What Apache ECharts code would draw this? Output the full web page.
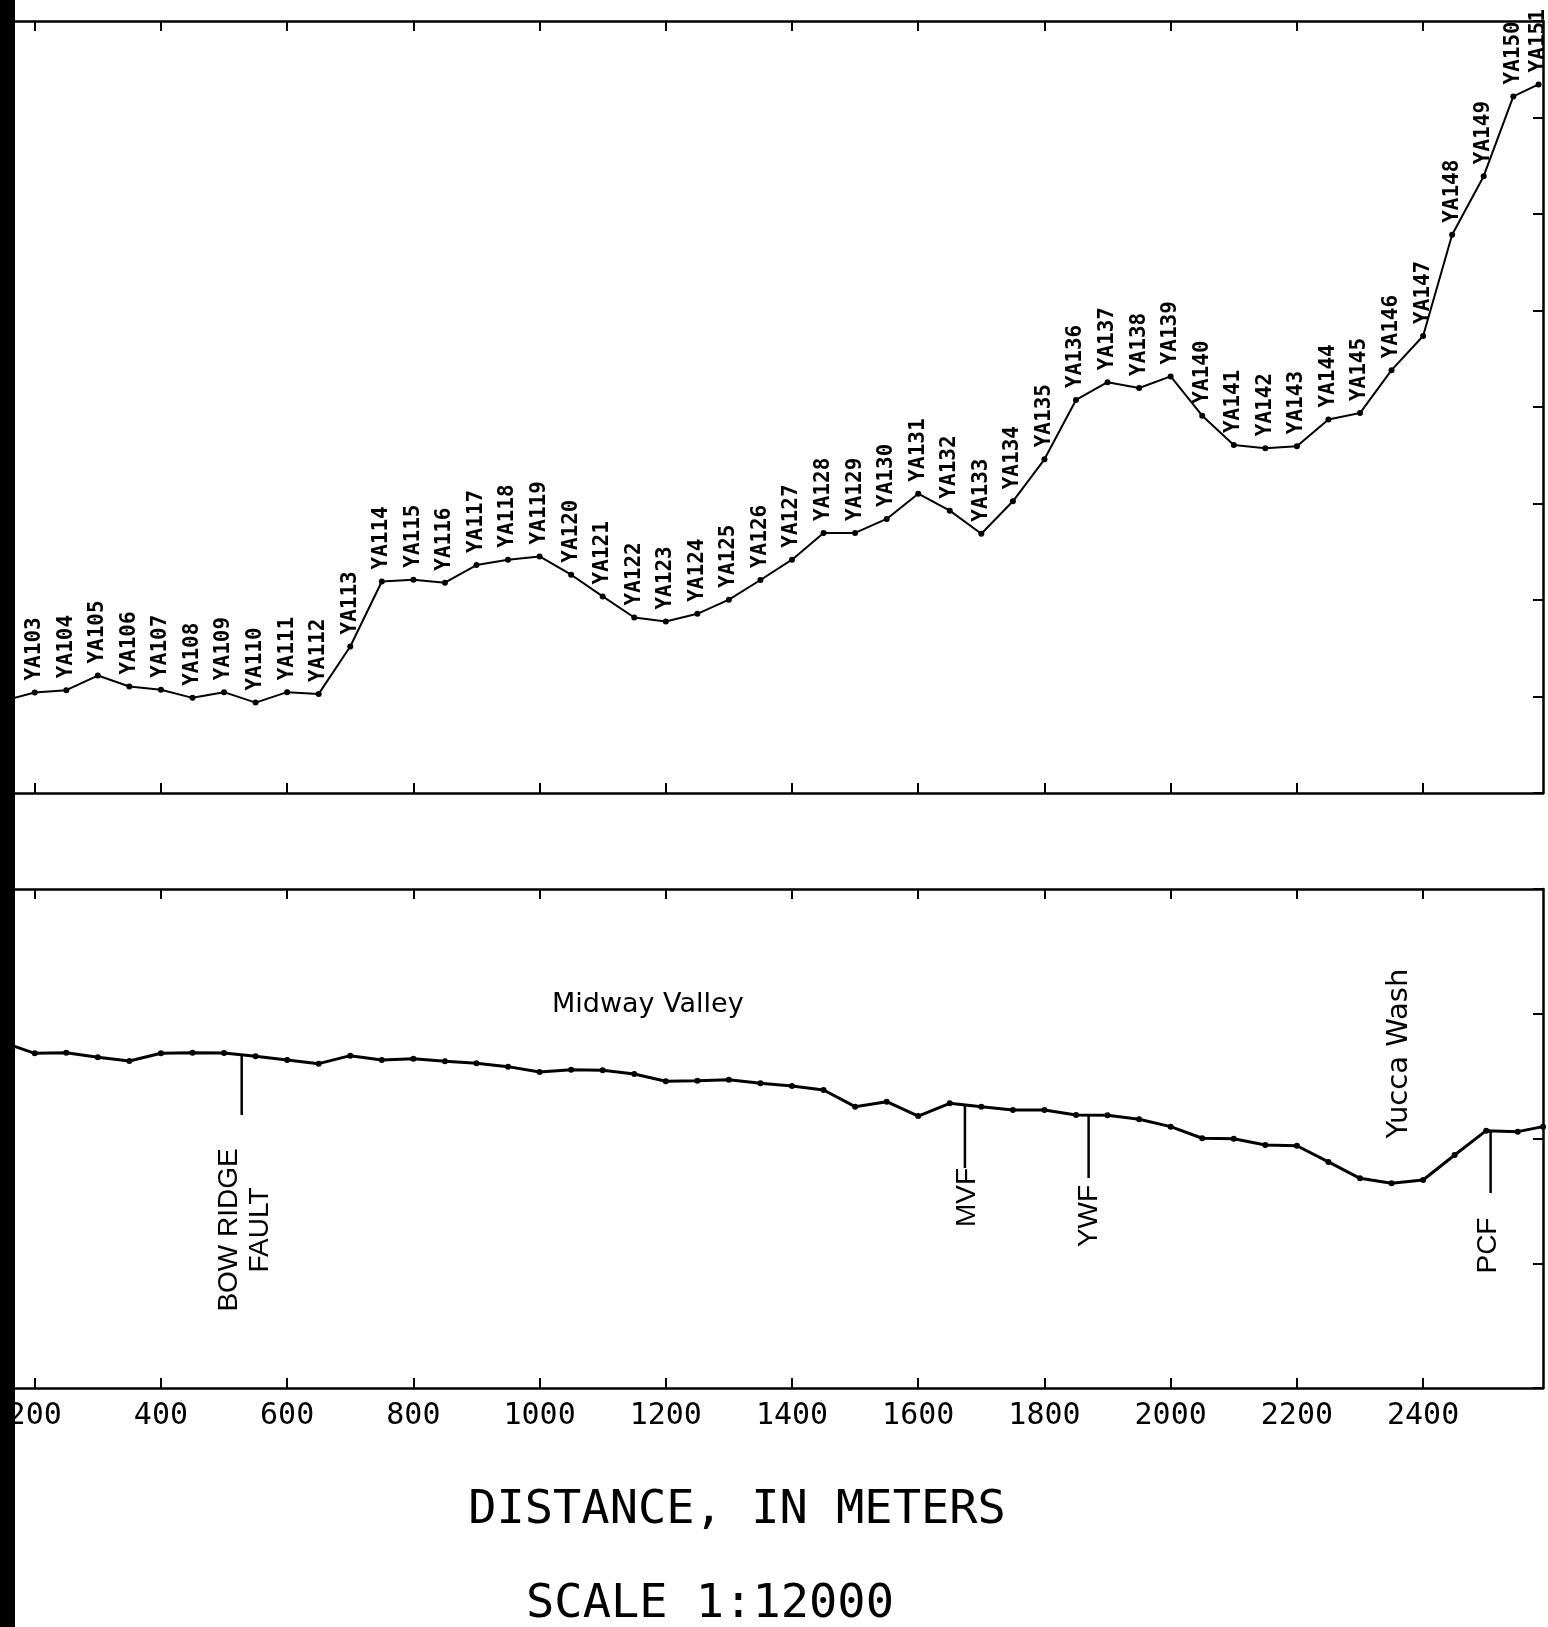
<!DOCTYPE html>
<html>
<head>
<meta charset="utf-8">
<script src="https://cdn.jsdelivr.net/npm/echarts@6/dist/echarts.min.js"></script>
<style>
html,body{margin:0;padding:0;background:#ffffff;}
#chart{width:1548px;height:1627px;}
</style>
</head>
<body>
<div id="chart"></div>
<script>
// ---- Upper profile: stations ----
const topStations = ['', 'YA103', 'YA104', 'YA105', 'YA106', 'YA107', 'YA108', 'YA109', 'YA110', 'YA111',
  'YA112', 'YA113', 'YA114', 'YA115', 'YA116', 'YA117', 'YA118', 'YA119', 'YA120', 'YA121',
  'YA122', 'YA123', 'YA124', 'YA125', 'YA126', 'YA127', 'YA128', 'YA129', 'YA130', 'YA131',
  'YA132', 'YA133', 'YA134', 'YA135', 'YA136', 'YA137', 'YA138', 'YA139', 'YA140', 'YA141',
  'YA142', 'YA143', 'YA144', 'YA145', 'YA146', 'YA147', 'YA148', 'YA149', 'YA150', 'YA151'];
const topDistance = [150, 200, 250, 300, 350, 400, 450, 500, 550, 600,
  650, 700, 750, 800, 850, 900, 950, 1000, 1050, 1100,
  1150, 1200, 1250, 1300, 1350, 1400, 1450, 1500, 1550, 1600,
  1650, 1700, 1750, 1800, 1850, 1900, 1950, 2000, 2050, 2100,
  2150, 2200, 2250, 2300, 2350, 2400, 2446, 2496, 2543, 2583];
const topValues = [9.55, 10.41, 10.66, 12.17, 11.03, 10.69, 9.86, 10.45, 9.37, 10.45,
  10.27, 15.18, 21.92, 22.10, 21.79, 23.62, 24.18, 24.52, 22.62, 20.37,
  18.19, 17.77, 18.57, 20.03, 22.07, 24.18, 26.95, 26.95, 28.40, 31.02,
  29.26, 26.87, 30.23, 34.58, 40.73, 42.57, 41.97, 43.17, 39.10, 36.06,
  35.73, 35.94, 38.71, 39.37, 43.82, 47.36, 57.84, 63.92, 72.18, 73.43];

// ---- Lower profile ----
const bottomDistance = [150, 200, 250, 300, 350, 400, 450, 500, 550, 600,
  650, 700, 750, 800, 850, 900, 950, 1000, 1050, 1100,
  1150, 1200, 1250, 1300, 1350, 1400, 1450, 1500, 1550, 1600,
  1650, 1700, 1750, 1800, 1850, 1900, 1950, 2000, 2050, 2100,
  2150, 2200, 2250, 2300, 2350, 2400, 2450, 2500, 2550, 2590];
const bottomValues = [27.70, 26.83, 26.88, 26.51, 26.21, 26.83, 26.88, 26.85, 26.59, 26.29,
  26.00, 26.64, 26.29, 26.40, 26.19, 26.03, 25.76, 25.33, 25.52, 25.47,
  25.17, 24.59, 24.63, 24.71, 24.42, 24.21, 23.89, 22.55, 22.95, 21.80,
  22.82, 22.55, 22.28, 22.28, 21.88, 21.86, 21.54, 20.95, 20.02, 19.98,
  19.48, 19.42, 18.12, 16.81, 16.41, 16.67, 18.68, 20.63, 20.55, 20.95];

// ---- Faults (lower panel) ----
const faultNames = ['BOW RIDGE\nFAULT', 'MVF', 'YWF', 'PCF'];
const faultDistance = [528, 1674, 1870, 2507];
const faultTopValue = [26.69, 22.71, 21.96, 20.63];
const faultBottomValue = [21.88, 17.64, 16.83, 15.63];
const faultLabelDistance = [533.6, 1677.8, 1870.4, 2503.9];
const faultLabelValue = [12.67, 15.27, 13.79, 11.42];

// ---- Place names (lower panel) ----
const placeNames = ['Midway Valley', 'Yucca Wash'];
const placeDistance = [1171.5, 2363];
const placeValue = [30.70, 26.81];

// ---- Axis ----
const xMin = 145, xMax = 2590;
const xTicks = [200, 400, 600, 800, 1000, 1200, 1400, 1600, 1800, 2000, 2200, 2400];
const topYMin = 0, topYMax = 80, topYStep = 10;
const bottomYMin = 0, bottomYMax = 40, bottomYStep = 10;
const xTitle = 'DISTANCE, IN METERS';
const scaleText = 'SCALE 1:12000';

const chart = echarts.init(document.getElementById('chart'), null, {renderer: 'canvas'});

const axisLineStyle = {color: '#000', width: 2.5};
function xAxisDef(grid, pos, withLabels) {
  return {
    type: 'value', gridIndex: grid, position: pos, min: xMin, max: xMax,
    axisLine: {show: true, onZero: false, lineStyle: axisLineStyle},
    axisTick: {show: true, inside: true, length: 10, customValues: xTicks,
      lineStyle: {color: '#000', width: 2}},
    axisLabel: withLabels ? {
      show: true, customValues: xTicks, margin: 13,
      fontFamily: 'DejaVu Sans Mono', fontSize: 30, color: '#000',
      formatter: v => String(v)
    } : {show: false},
    splitLine: {show: false}
  };
}
function yAxisDef(grid, min, max, step) {
  return {
    type: 'value', gridIndex: grid, position: 'right', min: min, max: max, interval: step,
    axisLine: {show: true, onZero: false, lineStyle: axisLineStyle},
    axisTick: {show: true, inside: true, length: 10, lineStyle: {color: '#000', width: 2}},
    axisLabel: {show: false},
    splitLine: {show: false}
  };
}

const series = [];
series.push({
  type: 'line', xAxisIndex: 0, yAxisIndex: 0,
  data: topDistance.map((d, i) => [d, topValues[i]]),
  symbol: 'circle', symbolSize: 6, showAllSymbol: true, clip: true,
  lineStyle: {color: '#000', width: 2}, itemStyle: {color: '#000'},
  label: {
    show: true, position: 'top', distance: 9, rotate: 90, align: 'left', verticalAlign: 'middle',
    fontFamily: 'DejaVu Sans Mono', fontWeight: 'bold', fontSize: 21, color: '#000',
    formatter: p => topStations[p.dataIndex]
  },
  emphasis: {disabled: true}, animation: false
});
series.push({
  type: 'line', xAxisIndex: 2, yAxisIndex: 1,
  data: bottomDistance.map((d, i) => [d, bottomValues[i]]),
  symbol: 'circle', symbolSize: 6, showAllSymbol: true, clip: true,
  lineStyle: {color: '#000', width: 3}, itemStyle: {color: '#000'},
  emphasis: {disabled: true}, animation: false
});
faultDistance.forEach((d, i) => {
  series.push({
    type: 'line', xAxisIndex: 2, yAxisIndex: 1,
    data: [[d, faultTopValue[i]], [d, faultBottomValue[i]]],
    symbol: 'none', lineStyle: {color: '#000', width: 2.5},
    emphasis: {disabled: true}, animation: false
  });
});
const annotationLabel = {
  show: true, position: 'inside', align: 'center', verticalAlign: 'middle',
  color: '#000', opacity: 1, textBorderWidth: 0, formatter: p => p.name
};
series.push({
  type: 'scatter', xAxisIndex: 2, yAxisIndex: 1, symbolSize: 0, itemStyle: {color: '#000'},
  data: faultNames.map((n, i) => ({name: n, value: [faultLabelDistance[i], faultLabelValue[i]]})),
  label: Object.assign({}, annotationLabel, {rotate: 90, fontFamily: 'Liberation Sans', fontSize: 28, lineHeight: 31}),
  emphasis: {disabled: true}, animation: false
});
series.push({
  type: 'scatter', xAxisIndex: 2, yAxisIndex: 1, symbolSize: 0, itemStyle: {color: '#000'},
  data: placeNames.map((n, i) => ({
    name: n, value: [placeDistance[i], placeValue[i]],
    label: {rotate: i === 0 ? 0 : 90, fontSize: i === 0 ? 27 : 29}
  })),
  label: Object.assign({}, annotationLabel, {fontFamily: 'DejaVu Sans'}),
  emphasis: {disabled: true}, animation: false
});

chart.setOption({
  backgroundColor: '#ffffff',
  animation: false,
  grid: [
    {left: 0, right: 5, top: 21, bottom: 1627 - 793},
    {left: 0, right: 5, top: 889, bottom: 1627 - 1388}
  ],
  xAxis: [
    xAxisDef(0, 'bottom', false),
    xAxisDef(0, 'top', false),
    xAxisDef(1, 'bottom', true),
    xAxisDef(1, 'top', false)
  ],
  yAxis: [
    yAxisDef(0, topYMin, topYMax, topYStep),
    yAxisDef(1, bottomYMin, bottomYMax, bottomYStep)
  ],
  series: series,
  graphic: [
    {type: 'text', x: 737, y: 1511, z: 50,
     style: {text: xTitle, font: '47px "DejaVu Sans Mono"', fill: '#000', textAlign: 'center', textVerticalAlign: 'middle'}},
    {type: 'text', x: 710, y: 1605, z: 50,
     style: {text: scaleText, font: '47px "DejaVu Sans Mono"', fill: '#000', textAlign: 'center', textVerticalAlign: 'middle'}},
    {type: 'rect', z: 100, shape: {x: 0, y: 0, width: 15, height: 1627}, style: {fill: '#000'}}
  ]
});
</script>
</body>
</html>
